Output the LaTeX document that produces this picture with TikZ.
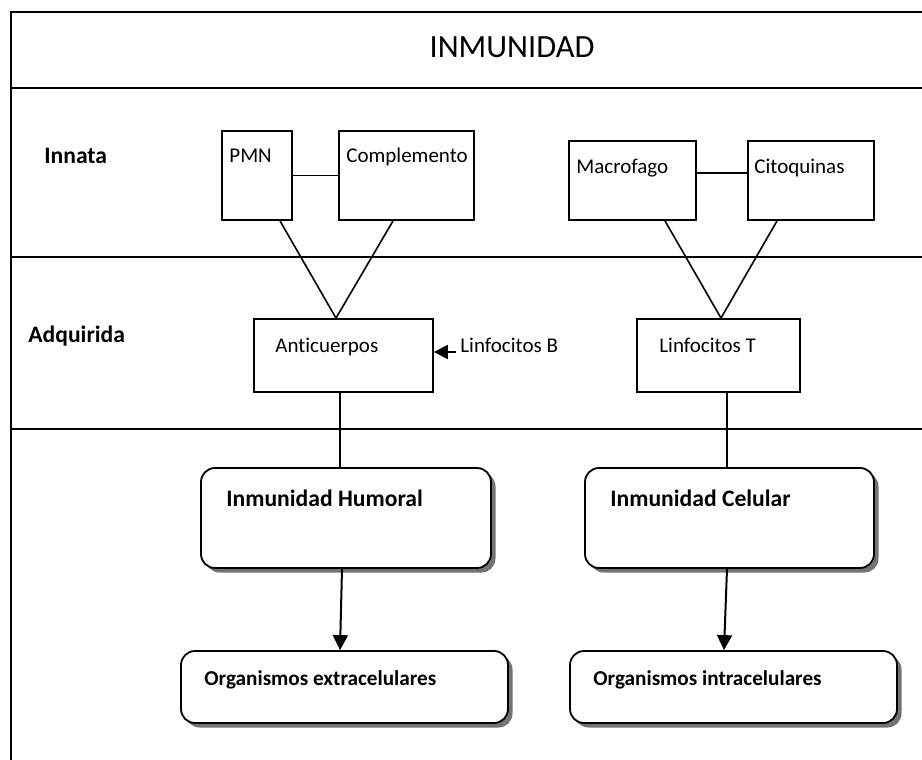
\documentclass[tikz,border=0pt]{standalone}
\usepackage{fontspec}
\setmainfont{Carlito}[Ligatures=NoCommon]
\usetikzlibrary{arrows.meta,shadows}

\tikzset{
  box/.style={draw, line width=0.9pt, inner sep=0pt},
  rbox/.style={box, rounded corners=7pt, fill=white,
    drop shadow={shadow xshift=2.25pt, shadow yshift=-2.25pt, fill=black!55, opacity=1}},
  txt/.style={anchor=base west, inner sep=0pt, font=\fontsize{10.5}{12}\selectfont},
  hdr/.style={txt, font=\fontsize{11.8}{14}\selectfont\bfseries},
  orgtxt/.style={txt, font=\fontsize{10.6}{13}\selectfont\bfseries},
  link/.style={line width=0.8pt},
  flecha/.style={line width=1pt, -{Triangle[width=7.5pt,length=7.5pt]}},
}

\begin{document}
\begin{tikzpicture}[x=0.5pt, y=-0.5pt]
    \useasboundingbox (0,0) rectangle (922,760);
    %% Frame and rows
    \draw[line width=1pt] (11,760) -- (11,12) -- (922,12);
    \foreach \y in {88,257,429} {
        \draw[line width=1pt] (11,\y) -- (922,\y);
    }
    \node[anchor=base, inner sep=0pt, font=\fontsize{16.2}{19}\selectfont] (titulo) at (512,57) {INMUNIDAD};
    \node[hdr] (innata) at (44,163) {Innata};
    \node[hdr] (adquirida) at (28,342) {Adquirida};

    %% Innata
    \node[box, minimum width=35pt, minimum height=44.5pt] (pmn) at (257,175.5) {};
    \node[box, minimum width=67.5pt, minimum height=44.5pt] (comp) at (406.5,175.5) {};
    \node[box, minimum width=63.5pt, minimum height=39.5pt] (macro) at (632.5,180.5) {};
    \node[box, minimum width=63pt, minimum height=39.5pt] (cito) at (811,180.5) {};
    \node[txt] (pmn-t) at (229,162) {PMN};
    \node[txt] (comp-t) at (346,162) {Complemento};
    \node[txt] (macro-t) at (576,173) {Macrofago};
    \node[txt] (cito-t) at (754,173) {Citoquinas};

    %% Adquirida
    \node[box, minimum width=89.5pt, minimum height=36.5pt] (anti) at (343.5,355.5) {};
    \node[box, minimum width=81.5pt, minimum height=36.5pt] (lint) at (718.5,355.5) {};
    \node[txt] (anti-t) at (275,352) {Anticuerpos};
    \node[txt] (lint-t) at (659,352) {Linfocitos T};
    \node[txt] (linb) at (460,352) {Linfocitos B};

    %% Respuesta
    \node[rbox, minimum width=145pt, minimum height=50pt] (humoral) at (346,518) {};
    \node[rbox, minimum width=144.5pt, minimum height=50pt] (celular) at (729.5,518) {};
    \node[rbox, minimum width=163.5pt, minimum height=36pt] (extra) at (344.5,687) {};
    \node[rbox, minimum width=163.5pt, minimum height=36pt] (intra) at (733.5,687) {};
    \node[hdr] (humoral-t) at (226,506) {Inmunidad Humoral};
    \node[hdr] (celular-t) at (610,506) {Inmunidad Celular};
    \node[orgtxt] (extra-t) at (204,685) {Organismos extracelulares};
    \node[orgtxt] (intra-t) at (593,685) {Organismos intracelulares};

    %% Connectors
    \draw[link] (pmn.east) -- (comp.west);
    \draw[link] ([yshift=3.75pt]macro.east) -- ([yshift=3.75pt]cito.west);
    \coordinate (anti-top) at ([xshift=-3.75pt]anti.north);
    \draw[link] ([xshift=11.5pt]pmn.south) -- (anti-top) -- ([xshift=-6.75pt]comp.south);
    \coordinate (lint-top) at ([xshift=1.25pt]lint.north);
    \draw[link] ([xshift=16.25pt]macro.south) -- (lint-top) -- ([xshift=-17pt]cito.south);
    \draw[link] ([xshift=-1.75pt]anti.south) -- ([xshift=-1.75pt]anti.south |- humoral.north);
    \draw[link] ([xshift=4.25pt]lint.south) -- ([xshift=4.25pt]lint.south |- celular.north);
    \draw[line width=1pt, -{Triangle[width=7pt,length=7pt]}] ([xshift=-2pt]linb.base west) -- (anti.east |- linb.base west);
    \draw[flecha] ([xshift=-2pt]humoral.south) -- ([xshift=-2.25pt]extra.north);
    \draw[flecha] ([xshift=-1.25pt]celular.south) -- ([xshift=-4.75pt]intra.north);
\end{tikzpicture}
\end{document}
